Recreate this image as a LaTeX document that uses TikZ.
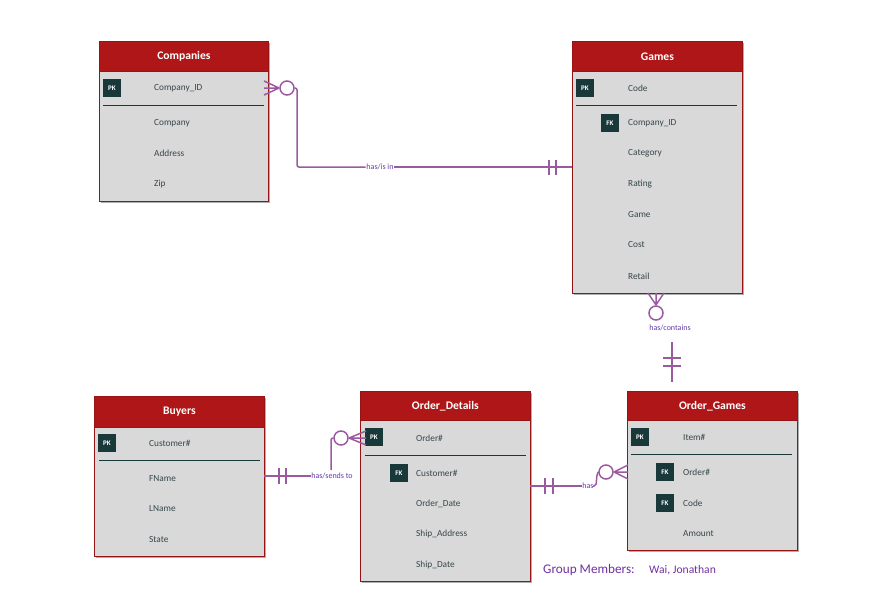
\documentclass[tikz,border=0pt]{standalone}
\usepackage{fontspec}
\setmainfont{Carlito}
\usetikzlibrary{shadows}
\definecolor{hdrred}{RGB}{174,22,24}
\definecolor{edgered}{RGB}{150,20,22}
\definecolor{bodygray}{RGB}{217,217,217}
\definecolor{keyteal}{RGB}{24,56,58}
\definecolor{fldtext}{RGB}{55,70,75}
\definecolor{connc}{RGB}{155,90,160}
\definecolor{lbltext}{RGB}{100,60,170}
\definecolor{grpcol}{RGB}{112,48,160}
\begin{document}
\begin{tikzpicture}[x=1pt,y=-1pt,
 tbody/.style={draw=edgered, line width=0.8pt, fill=bodygray, anchor=north west, inner sep=0,
   drop shadow={shadow xshift=2pt, shadow yshift=-2pt, opacity=0.45, fill=black!70}},
 thead/.style={draw=edgered, line width=0.8pt, fill=hdrred, text=white, font=\bfseries\fontsize{11.6}{13}\selectfont, anchor=north west, inner sep=0},
 fld/.style={text=fldtext, font=\fontsize{9.3}{11}\selectfont, anchor=west, inner sep=0},
 keybox/.style={fill=keyteal, text=white, font=\bfseries\fontsize{7}{8}\selectfont, minimum size=18pt, inner sep=0},
 sepline/.style={draw=keyteal, line width=0.9pt},
 conn/.style={draw=connc, line width=1.5pt},
 ring/.style={circle, draw=connc, line width=1.5pt, minimum size=14pt, inner sep=0},
 lbl/.style={text=lbltext, font=\fontsize{8}{9}\selectfont, inner sep=0.6pt, fill=white},
]
\useasboundingbox (0,0) rectangle (869,594);

% ---------- Companies ----------
\node[tbody, minimum width=169pt, minimum height=160pt] (comp) at (99,41) {};
\node[thead, minimum width=169pt, minimum height=30pt] (comph) at (99,41) {Companies};
\node[keybox] (comppk) at (112,88) {PK};
\node[fld] (compid) at (154,88) {Company\_ID};
\draw[sepline] (103,105) -- (264,105);
\node[fld] (compname) at (154,123) {Company};
\node[fld] (compaddr) at (154,153) {Address};
\node[fld] (compzip) at (154,184) {Zip};

% ---------- Games ----------
\node[tbody, minimum width=170pt, minimum height=252pt] (games) at (572,41) {};
\node[thead, minimum width=170pt, minimum height=30pt] (gamesh) at (572,41) {Games};
\node[keybox] (gamespk) at (585,88) {PK};
\node[fld] (gcode) at (628,88) {Code};
\draw[sepline] (576,105) -- (737,105);
\node[keybox] (gamesfk) at (610,123) {FK};
\node[fld] (gcid) at (628,123) {Company\_ID};
\node[fld] (gcat) at (628,153) {Category};
\node[fld] (grat) at (628,184) {Rating};
\node[fld] (ggame) at (628,215) {Game};
\node[fld] (gcost) at (628,245) {Cost};
\node[fld] (gret) at (628,276) {Retail};

% ---------- Buyers ----------
\node[tbody, minimum width=170pt, minimum height=160pt] (buy) at (94,396) {};
\node[thead, minimum width=170pt, minimum height=31pt] (buyh) at (94,396) {Buyers};
\node[keybox] (buypk) at (107,443) {PK};
\node[fld] (bcust) at (149,443) {Customer\#};
\draw[sepline] (99,460) -- (260,460);
\node[fld] (bfn) at (149,479) {FName};
\node[fld] (bln) at (149,509) {LName};
\node[fld] (bst) at (149,540) {State};

% ---------- Order_Details ----------
\node[tbody, minimum width=170pt, minimum height=190pt] (od) at (360,391) {};
\node[thead, minimum width=170pt, minimum height=29pt] (odh) at (360,391) {Order\_Details};
\node[keybox] (odpk) at (374,437) {PK};
\node[fld] (odord) at (416,438) {Order\#};
\draw[sepline] (365,455) -- (526,455);
\node[keybox] (odfk) at (399,473) {FK};
\node[fld] (odcust) at (416,473) {Customer\#};
\node[fld] (oddate) at (416,504) {Order\_Date};
\node[fld] (odaddr) at (416,534) {Ship\_Address};
\node[fld] (odship) at (416,565) {Ship\_Date};

% ---------- Order_Games ----------
\node[tbody, minimum width=170pt, minimum height=159pt] (og) at (627,391) {};
\node[thead, minimum width=170pt, minimum height=29pt] (ogh) at (627,391) {Order\_Games};
\node[keybox] (ogpk) at (640,437) {PK};
\node[fld] (ogitem) at (683,437) {Item\#};
\draw[sepline] (631,454) -- (792,454);
\node[keybox] (ogfk1) at (665,472) {FK};
\node[fld] (ogord) at (683,472) {Order\#};
\node[keybox] (ogfk2) at (665,503) {FK};
\node[fld] (ogcode) at (683,503) {Code};
\node[fld] (ogamt) at (683,534) {Amount};

% ---------- Companies -- Games ----------
\node[ring] (r1) at (287,88) {};
\coordinate (r1f) at (279,88);
\draw[conn] (r1f) -- (264,81) (r1f) -- (264,88) (r1f) -- (264,95);
\node[lbl] (l1) at (380,167) {has/is in};
\coordinate (g1) at (572,167);
\draw[conn, rounded corners=2pt] (r1.east) -- (297,88) -- (297,167) -- (l1.west);
\draw[conn] (l1.east) -- (g1);
\draw[conn] (549,160) -- (549,175) (556,160) -- (556,175);

% ---------- Games -- Order_Games ----------
\node[ring] (r2) at (656,313) {};
\coordinate (r2f) at (656,305);
\draw[conn] (r2f) -- (648,293) (r2f) -- (656,293) (r2f) -- (664,293);
\node[lbl, fill=none] (l2) at (670,328) {has/contains};
\coordinate (og2a) at (672,342);
\coordinate (og2b) at (672,382);
\draw[conn] (og2a) -- (og2b);
\draw[conn] (663,358) -- (681,358) (663,366) -- (681,366);

% ---------- Buyers -- Order_Details ----------
\node[lbl] (l3) at (332,476) {has/sends to};
\draw[conn] (264,476) -- (l3.west);
\draw[conn] (279,468) -- (279,484) (286,468) -- (286,484);
\node[ring] (r3) at (341,438) {};
\draw[conn, rounded corners=2pt] (331,470) -- (331,438) -- (r3.west);
\coordinate (r3f) at (349,438);
\draw[conn] (r3f) -- (366,431) (r3f) -- (366,438) (r3f) -- (366,445);

% ---------- Order_Details -- Order_Games ----------
\node[lbl] (l4) at (588,486) {has};
\draw[conn] (530,486) -- (l4.west);
\draw[conn] (545,478) -- (545,494) (553,478) -- (553,494);
\node[ring] (r4) at (606,472) {};
\draw[conn, rounded corners=2pt] (l4.east) -- (596,486) -- (597,474) -- (r4.west);
\coordinate (r4f) at (614,472);
\draw[conn] (r4f) -- (628,465) (r4f) -- (628,472) (r4f) -- (628,479);

% ---------- Group members ----------
\node[text=grpcol, font=\fontsize{13.2}{15}\selectfont, anchor=west, inner sep=0] (grp) at (543,570) {Group Members:};
\node[text=grpcol, font=\fontsize{11.6}{13}\selectfont, anchor=west, inner sep=0] (names) at (649,570) {Wai, Jonathan};
\end{tikzpicture}
\end{document}
